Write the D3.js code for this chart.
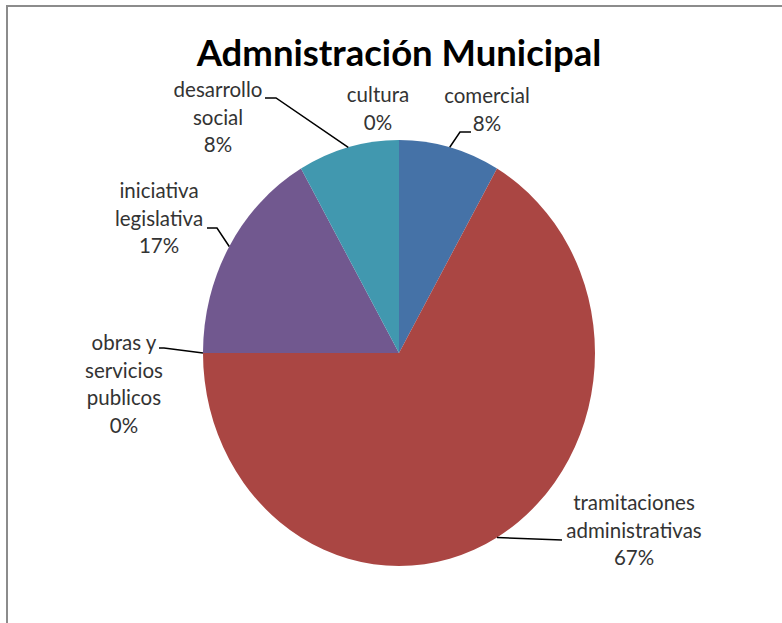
<!DOCTYPE html>
<html>
<head>
<meta charset="utf-8">
<script src="https://cdn.jsdelivr.net/npm/d3@7"></script>
<style>
  body { margin: 0; background: #fff; }
  text { font-family: Lato, "Open Sans", sans-serif; fill: #333; }
  .lbl { font-size: 20.5px; }
  .title { font-size: 36.5px; font-weight: bold; fill: #000; }
</style>
</head>
<body>
<div id="chart"></div>
<script>
var categories = ['comercial', 'tramitaciones administrativas', 'obras y servicios publicos',
                  'iniciativa legislativa', 'desarrollo social', 'cultura'];
var values = [1, 8, 0, 2, 1, 0];
var colors = ['#4572A7', '#AA4643', '#89A54E', '#71588F', '#4198AF', '#DB843D'];

// Label text lines (as wrapped in the original)
var labelLines = [
  ['comercial'],
  ['tramitaciones', 'administrativas'],
  ['obras y', 'servicios', 'publicos'],
  ['iniciativa', 'legislativa'],
  ['desarrollo', 'social'],
  ['cultura']
];

// Layout
var width = 782, height = 623;
var cx = 399, cy = 353, rx = 196, ry = 213;
var lineH = 27.5;
// label block: center x, first baseline y, leader elbow + end (null = no leader)
var labelLayout = [
  { x: 487, y: 103, leader: [[460, 132], [471, 132]] },
  { x: 634, y: 510, leader: [[562, 540]] },
  { x: 124, y: 350, leader: [[164, 348], [159, 348]] },
  { x: 159, y: 198, leader: [[217, 228], [207, 228]] },
  { x: 218, y: 97,  leader: [[276, 98], [265, 98]] },
  { x: 378, y: 102, leader: null }
];

var svg = d3.select('#chart').append('svg')
    .attr('width', width)
    .attr('height', height);

// Chart frame (only top and left edges visible in the crop)
svg.append('path')
    .attr('d', 'M7,' + height + ' V6 H' + width)
    .attr('fill', 'none')
    .attr('stroke', '#8c8c8c')
    .attr('stroke-width', 2);

svg.append('text')
    .attr('class', 'title')
    .attr('x', 399)
    .attr('y', 66)
    .attr('text-anchor', 'middle')
    .text('Admnistración Municipal');

var total = d3.sum(values);
var pie = d3.pie().sort(null).value(d => d);
var arcs = pie(values);

var arc = d3.arc().innerRadius(0).outerRadius(rx);

// Pie is drawn as a circle and stretched vertically into the ellipse
var g = svg.append('g')
    .attr('transform', `translate(${cx},${cy}) scale(1,${ry / rx})`);

g.selectAll('path')
    .data(arcs.filter(d => d.value > 0))
    .enter()
    .append('path')
    .attr('d', arc)
    .attr('fill', (d) => colors[d.index]);

// Edge point of a slice's mid angle on the ellipse
function edgePoint(d) {
    var a = (d.startAngle + d.endAngle) / 2;
    return [cx + rx * Math.sin(a), cy - ry * Math.cos(a)];
}

// Leader lines
arcs.forEach(function (d, i) {
    var lay = labelLayout[i];
    if (!lay.leader) return;
    var pts = [edgePoint(d)].concat(lay.leader);
    svg.append('path')
        .attr('d', d3.line()(pts))
        .attr('fill', 'none')
        .attr('stroke', '#000')
        .attr('stroke-width', 1.5);
});

// Labels
arcs.forEach(function (d, i) {
    var lay = labelLayout[i];
    var lines = labelLines[i].concat([Math.round(d.value / total * 100) + '%']);
    var t = svg.append('text')
        .attr('class', 'lbl')
        .attr('text-anchor', 'middle');
    lines.forEach(function (s, j) {
        t.append('tspan')
            .attr('x', lay.x)
            .attr('y', lay.y + j * lineH)
            .text(s);
    });
});
</script>
</body>
</html>
